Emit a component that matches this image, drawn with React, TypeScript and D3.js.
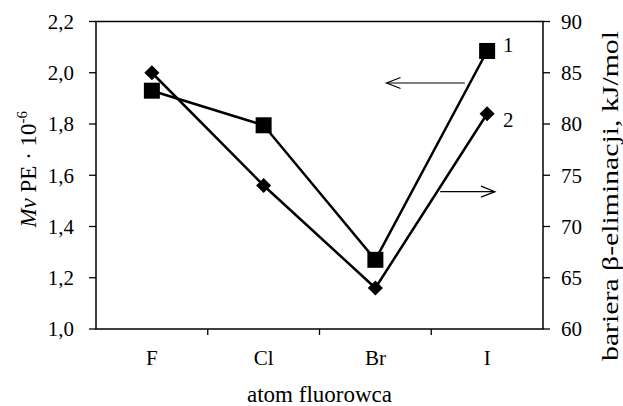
import React from 'react'
import * as d3 from 'd3'

const categories = ['F', 'Cl', 'Br', 'I']
const mvValues = [1.93, 1.795, 1.27, 2.085]
const barrierValues = [85, 74, 64, 81]
const leftTicks = [1.0, 1.2, 1.4, 1.6, 1.8, 2.0, 2.2]
const rightTicks = [60, 65, 70, 75, 80, 85, 90]

// arrows: x as category index position, y in axis units
const arrowLeft = { from: 2.8, to: 2.1, value: 1.96 }
const arrowRight = { from: 2.58, to: 3.07, value: 73.4 }

const W = 623
const H = 406
const margin = { top: 21.5, right: 80, bottom: 77, left: 96 }
const font = '"Liberation Serif", "Times New Roman", serif'

const App = () => {
  const x = d3.scaleBand().domain(categories).range([margin.left, W - margin.right]).padding(0)
  const xi = d3.scaleLinear().domain([-0.5, categories.length - 0.5]).range([margin.left, W - margin.right])
  const yL = d3.scaleLinear().domain([1.0, 2.2]).range([H - margin.bottom, margin.top])
  const yR = d3.scaleLinear().domain([60, 90]).range([H - margin.bottom, margin.top])
  const cx = c => x(c) + x.bandwidth() / 2

  const line1 = d3.line().x((d, i) => cx(categories[i])).y(d => yL(d))
  const line2 = d3.line().x((d, i) => cx(categories[i])).y(d => yR(d))

  const x0 = margin.left
  const x1 = W - margin.right
  const y0 = H - margin.bottom
  const y1 = margin.top
  const fmt = d => d3.format('.1f')(d).replace('.', ',')

  const arrow = (xa, xb, y, key) => {
    const dir = xb > xa ? 1 : -1
    return (
      <g key={key} stroke='#000' strokeWidth={1.2} fill='none'>
        <line x1={xa} x2={xb} y1={y} y2={y} />
        <path d={`M${xb - dir * 14},${y - 5.5}L${xb},${y}L${xb - dir * 14},${y + 5.5}`} />
      </g>
    )
  }

  return (
    <svg width={W} height={H} style={{ position: 'absolute', left: 0, top: 0, background: '#fff' }} fontFamily={font}>
      <rect x={x0} y={y1} width={x1 - x0} height={y0 - y1} fill='none' stroke='#000' strokeWidth={1.5} />
      {leftTicks.map(t => (
        <g key={'l' + t}>
          <line x1={x0 - 7} x2={x0} y1={yL(t)} y2={yL(t)} stroke='#000' strokeWidth={1.3} />
          <text x={x0 - 22} y={yL(t)} dy='0.35em' textAnchor='end' fontSize={21}>{fmt(t)}</text>
        </g>
      ))}
      {rightTicks.map(t => (
        <g key={'r' + t}>
          <line x1={x1} x2={x1 + 7} y1={yR(t)} y2={yR(t)} stroke='#000' strokeWidth={1.3} />
          <text x={x1 + 18} y={yR(t)} dy='0.35em' textAnchor='start' fontSize={21}>{t}</text>
        </g>
      ))}
      {categories.slice(1).map(c => (
        <line key={'t' + c} x1={x(c)} x2={x(c)} y1={y0} y2={y0 + 6} stroke='#000' strokeWidth={1.3} />
      ))}
      {categories.map(c => (
        <text key={'c' + c} x={cx(c)} y={y0 + 36} textAnchor='middle' fontSize={21}>{c}</text>
      ))}
      <text x={(x0 + x1) / 2} y={H - 4} textAnchor='middle' fontSize={23}>atom fluorowca</text>
      <text transform={`translate(36,${(y0 + y1) / 2 - 6}) rotate(-90)`} textAnchor='middle' fontSize={23}>
        <tspan fontStyle='italic'>Mv</tspan> PE · 10<tspan dy={-9} fontSize={15}>-6</tspan>
      </text>
      <text transform={`translate(618,196) rotate(-90)`} textAnchor='middle' fontSize={23}
        textLength={330} lengthAdjust='spacingAndGlyphs'>
        bariera β-eliminacji, kJ/mol
      </text>

      <path d={line1(mvValues)} fill='none' stroke='#000' strokeWidth={2.5} />
      <path d={line2(barrierValues)} fill='none' stroke='#000' strokeWidth={2.5} />
      {mvValues.map((v, i) => (
        <rect key={'s' + i} x={cx(categories[i]) - 8} y={yL(v) - 8} width={16} height={16} fill='#000' />
      ))}
      {barrierValues.map((v, i) => (
        <path key={'d' + i} d={d3.symbol(d3.symbolDiamond2, 145)()} transform={`translate(${cx(categories[i])},${yR(v)})`} fill='#000' />
      ))}
      <text x={cx('I') + 21} y={yL(mvValues[3]) - 6} dy='0.35em' textAnchor='middle' fontSize={21}>1</text>
      <text x={cx('I') + 21} y={yR(barrierValues[3]) + 6} dy='0.35em' textAnchor='middle' fontSize={21}>2</text>
      {arrow(xi(arrowLeft.from), xi(arrowLeft.to), yL(arrowLeft.value), 'a1')}
      {arrow(xi(arrowRight.from), xi(arrowRight.to), yR(arrowRight.value), 'a2')}
    </svg>
  )
}

export default App
